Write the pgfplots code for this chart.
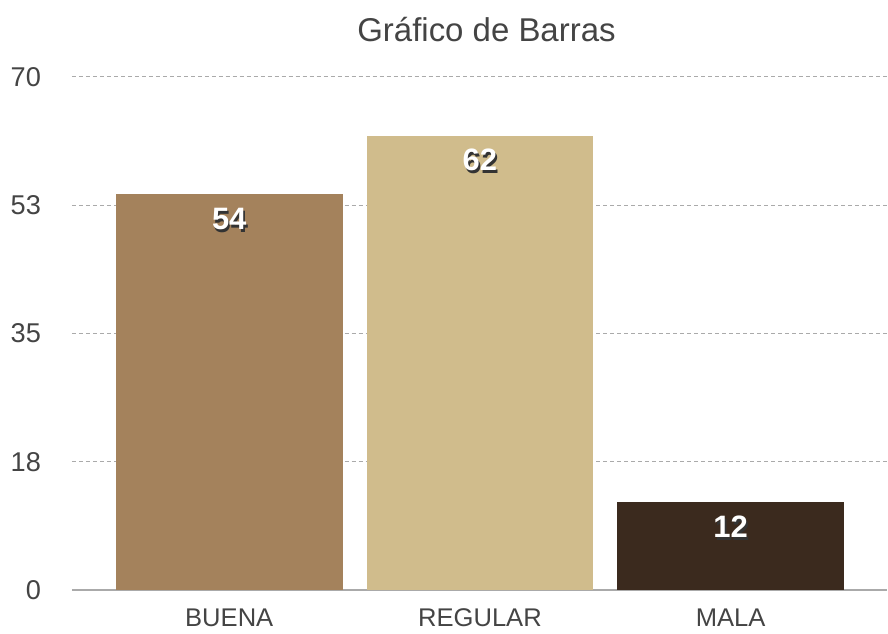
\documentclass[border=0pt]{standalone}
\usepackage{pgfplots}
\pgfplotsset{compat=1.18}
\usepackage{fontspec}
\setmainfont{Liberation Sans}
\definecolor{buena}{RGB}{164,130,92}
\definecolor{regular}{RGB}{208,188,140}
\definecolor{mala}{RGB}{59,42,30}
\definecolor{txt}{RGB}{68,68,68}
\definecolor{gridc}{RGB}{170,170,170}
\newcommand\shadowed[1]{\makebox[0pt]{\hspace{1.6pt}\raisebox{-1.6pt}{\textcolor{black!80}{#1}}}\makebox[0pt]{\textcolor{white}{#1}}}

\begin{document}
\begin{tikzpicture}
\begin{axis}[scale only axis, width=408pt, height=257pt,
  xmin=-0.6275, xmax=2.6235, ymin=0, ymax=70,
  ybar, bar width=113.5pt, bar shift=0pt,
  xtick={0,1,2}, xticklabels={BUENA,REGULAR,MALA},
  ytick={0,17.5,35,52.5,70}, yticklabels={0,18,35,53,70},
  axis x line*=bottom, axis y line*=left,
  y axis line style={draw=none},
  x axis line style={gridc, line width=1pt},
  major tick length=0pt,
  ymajorgrids, grid style={gridc, line width=0.5pt, dash pattern=on 2pt off 1.5pt},
  tick label style={font=\fontsize{13.6}{16}\selectfont, text=txt},
  xticklabel style={font=\fontsize{12.8}{15}\selectfont, anchor=base, yshift=-18pt},
  yticklabel style={anchor=east, xshift=-12pt},
  /pgf/number format/assume math mode=true,
  title={Gráfico de Barras},
  title style={at={(axis description cs:0.5086,1)}, anchor=base, yshift=11.5pt,
    font=\fontsize{16.5}{20}\selectfont, text=txt},
  nodes near coords={\shadowed{\pgfmathprintnumber{\pgfplotspointmeta}}},
  nodes near coords style={anchor=center, yshift=-13pt, font=\bfseries\fontsize{15.5}{18}\selectfont},
  clip=false]
\addplot[fill=buena, draw=none] coordinates {(0,54)};
\addplot[fill=regular, draw=none] coordinates {(1,62)};
\addplot[fill=mala, draw=none] coordinates {(2,12)};
\end{axis}
\useasboundingbox (-36pt,-20pt) rectangle (408pt,295.5pt);
\end{tikzpicture}
\end{document}
